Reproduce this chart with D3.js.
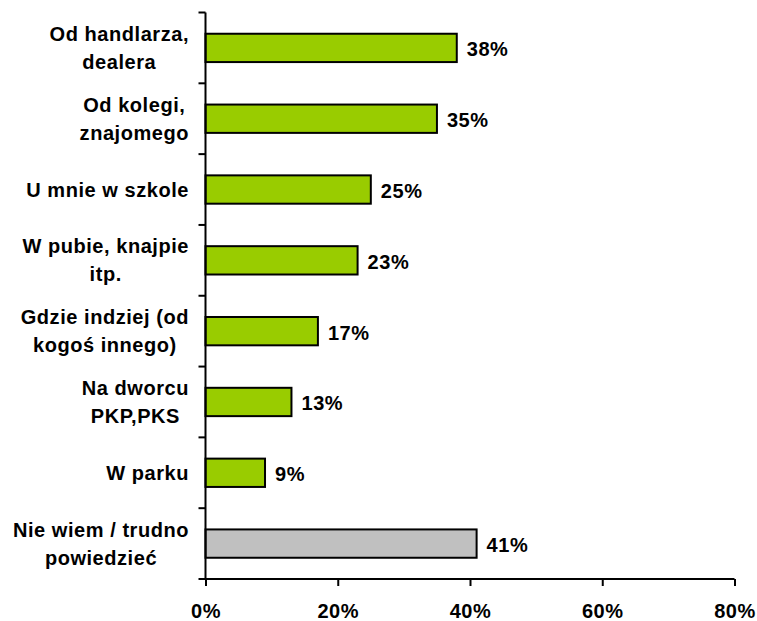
<!DOCTYPE html>
<html><head><meta charset="utf-8">
<script src="https://cdn.jsdelivr.net/npm/d3@7"></script>
<style>body{margin:0;background:#fff}</style>
</head><body>
<svg id="c" width="757" height="621"></svg>
<script>
const categories = [
  ["Od handlarza,", "dealera"],
  ["Od kolegi,", "znajomego"],
  ["U mnie w szkole"],
  ["W pubie, knajpie", "itp."],
  ["Gdzie indziej (od", "kogoś innego)"],
  ["Na dworcu", "PKP,PKS"],
  ["W parku"],
  ["Nie wiem / trudno", "powiedzieć"]
];
const values = [38, 35, 25, 23, 17, 13, 9, 41];
const barColors = ["#99cc00","#99cc00","#99cc00","#99cc00","#99cc00","#99cc00","#99cc00","#c0c0c0"];
const tickValues = [0, 20, 40, 60, 80];

const svg = d3.select("#c");
const font = "'Liberation Sans', Arial, sans-serif";
const fs = 20, ls = 0.55;
const pL = 205.5, pR = 734.5, pT = 12.5, pB = 579;
const ids = categories.map((d, i) => i);
const x = d3.scaleLinear().domain([0, 80]).range([pL, pR]);
const y = d3.scaleBand().domain(ids).range([pT, pB]).paddingInner(0.6).paddingOuter(0.3);
const yb = d3.scaleBand().domain(ids).range([pT, pB]);

// bars
svg.selectAll("rect.bar").data(values).join("rect")
  .attr("x", x(0)).attr("y", (d, i) => y(i))
  .attr("width", d => x(d) - x(0)).attr("height", y.bandwidth())
  .attr("fill", (d, i) => barColors[i]).attr("stroke", "#000").attr("stroke-width", 2);

// value labels
svg.selectAll("text.val").data(values).join("text")
  .attr("x", d => x(d) + 10).attr("y", (d, i) => y(i) + y.bandwidth() / 2 + 8.5)
  .attr("font-family", font).attr("font-weight", "bold").attr("font-size", fs)
  .attr("letter-spacing", ls)
  .text(d => d + "%");

// x axis
const xAxis = d3.axisBottom(x).tickValues(tickValues).tickSize(7).tickFormat(d => d + "%");
const gx = svg.append("g").attr("transform", `translate(0,${pB})`).call(xAxis);
gx.select(".domain").attr("stroke-width", 2).attr("d", `M${pL},0H${pR}`);
gx.selectAll(".tick line").attr("stroke-width", 2);
gx.selectAll(".tick text").attr("font-family", font).attr("font-weight", "bold")
  .attr("font-size", fs).attr("letter-spacing", ls).attr("fill", "#000").attr("dy", 0).attr("y", 39);

// y axis (ticks at band boundaries)
const gy = svg.append("g");
gy.append("line").attr("x1", pL).attr("x2", pL).attr("y1", pT).attr("y2", pB)
  .attr("stroke", "#000").attr("stroke-width", 2);
const bounds = ids.map(i => yb(i)).concat([pB]);
gy.selectAll("line.t").data(bounds).join("line")
  .attr("x1", pL - 7).attr("x2", pL).attr("y1", d => d).attr("y2", d => d)
  .attr("stroke", "#000").attr("stroke-width", 2);

// category labels
const lh = 28;
categories.forEach((lines, i) => {
  const cy = y(i) + y.bandwidth() / 2;
  const t = svg.append("text").attr("font-family", font).attr("font-weight", "bold")
    .attr("font-size", fs).attr("letter-spacing", ls).attr("text-anchor", "middle").attr("fill", "#000");
  const tspans = lines.map((l, k) => t.append("tspan").text(l));
  let maxW = 0;
  tspans.forEach(s => { maxW = Math.max(maxW, s.node().getComputedTextLength()); });
  const cx = 189 - maxW / 2;
  const y0 = cy - (lines.length - 1) * lh / 2 + 7;
  tspans.forEach((s, k) => s.attr("x", cx).attr("y", y0 + k * lh));
});
</script>
</body></html>
